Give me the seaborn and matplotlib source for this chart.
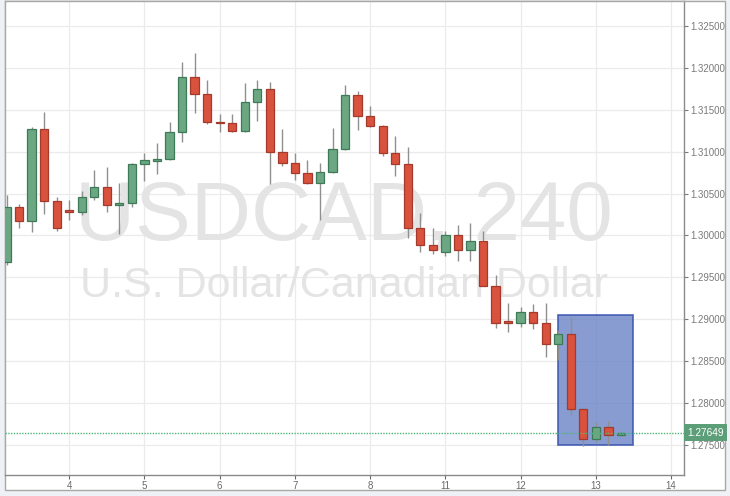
import numpy as np
import pandas as pd
import matplotlib
matplotlib.use("Agg")
import matplotlib.pyplot as plt
import matplotlib.transforms as mtransforms
from matplotlib.patches import Rectangle
import seaborn as sns

# ---------------- data (USDCAD, 4-hour candles) ----------------
opens = [1.2968, 1.3034, 1.3017, 1.3127, 1.3041, 1.3030, 1.3028, 1.3046, 1.3058, 1.3036,
         1.3039, 1.3085, 1.3089, 1.3091, 1.3123, 1.3189, 1.3169, 1.3135, 1.3134, 1.3125,
         1.3159, 1.3175, 1.3100, 1.3086, 1.3074, 1.3063, 1.3076, 1.3103, 1.3168, 1.3142,
         1.3131, 1.3099, 1.3085, 1.3009, 1.2989, 1.2980, 1.3001, 1.2983, 1.2994, 1.2940,
         1.2897, 1.2896, 1.2909, 1.2896, 1.2870, 1.2882, 1.2793, 1.2757, 1.2772, 1.2762]
highs = [1.3048, 1.3038, 1.3129, 1.3147, 1.3046, 1.3042, 1.3053, 1.3078, 1.3082, 1.3063,
         1.3086, 1.3099, 1.3110, 1.3136, 1.3207, 1.3218, 1.3185, 1.3145, 1.3145, 1.3182,
         1.3185, 1.3183, 1.3127, 1.3098, 1.3090, 1.3086, 1.3128, 1.3180, 1.3173, 1.3155,
         1.3132, 1.3119, 1.3105, 1.3027, 1.3009, 1.3005, 1.3013, 1.3015, 1.3005, 1.2953,
         1.2919, 1.2915, 1.2918, 1.2919, 1.2887, 1.2903, 1.2794, 1.2777, 1.2779, 1.2766]
lows = [1.2965, 1.3009, 1.3004, 1.3026, 1.3005, 1.3018, 1.3025, 1.3042, 1.3028, 1.3002,
        1.3034, 1.3065, 1.3073, 1.3090, 1.3112, 1.3146, 1.3133, 1.3124, 1.3123, 1.3124,
        1.3137, 1.3062, 1.3083, 1.3066, 1.3062, 1.3018, 1.3075, 1.3102, 1.3126, 1.3130,
        1.3095, 1.3071, 1.2997, 1.2980, 1.2978, 1.2976, 1.2970, 1.2970, 1.2940, 1.2890,
        1.2885, 1.2891, 1.2889, 1.2855, 1.2851, 1.2786, 1.2749, 1.2754, 1.2750, 1.2761]
closes = [1.3034, 1.3017, 1.3127, 1.3041, 1.3009, 1.3028, 1.3046, 1.3058, 1.3036, 1.3039,
          1.3085, 1.3090, 1.3091, 1.3123, 1.3189, 1.3169, 1.3135, 1.3134, 1.3125, 1.3159,
          1.3175, 1.3100, 1.3086, 1.3074, 1.3063, 1.3076, 1.3103, 1.3168, 1.3142, 1.3131,
          1.3099, 1.3085, 1.3009, 1.2989, 1.2983, 1.3001, 1.2983, 1.2994, 1.2940, 1.2896,
          1.2896, 1.2909, 1.2896, 1.2870, 1.2882, 1.2793, 1.2757, 1.2772, 1.2762, 1.27649]

day_labels = ["4", "5", "6", "7", "8", "11", "12", "13", "14"]
day_start_candle = [5, 11, 17, 23, 29, 35, 41, 47, 53]   # candle index at each day's 00:00
price_ticks = [1.275, 1.280, 1.285, 1.290, 1.295, 1.300, 1.305, 1.310, 1.315, 1.320, 1.325]
current_price = 1.27649
box_candles = [44, 50]
box_prices = [1.2750, 1.29055]

df = pd.DataFrame({"open": opens, "high": highs, "low": lows, "close": closes})
df["idx"] = np.arange(len(df))
df["up"] = df["close"] >= df["open"]

# ---------------- style ----------------
sns.set_theme(style="white")
plt.rcParams["font.family"] = ["Liberation Sans", "DejaVu Sans"]

GREEN = "#6aa782"
GREEN_EDGE = "#3f7a58"
RED = "#d9523e"
RED_EDGE = "#a33a2b"
WICK = "#8f8f8f"
GRID = "#ebebeb"

fig = plt.figure(figsize=(7.30, 4.96), dpi=100, facecolor="#eef2f6")
W, H = 730.0, 496.0
fig.patches.append(Rectangle((5 / W, 1 - 490 / H), (725 - 5) / W, (490 - 1) / H,
                             transform=fig.transFigure, facecolor="white",
                             edgecolor="#a8a8a8", lw=1.0, zorder=-5))
ax = fig.add_axes([5 / W, 1 - 475 / H, (684 - 5) / W, (475 - 1) / H])
ax.set_zorder(2)
ax.set_facecolor("white")

XL = (-0.12, 54.03)
YL = (1.27142, 1.32798)

# grid
for p in price_ticks:
    ax.axhline(p, color=GRID, lw=0.9, zorder=0)
for d in day_start_candle:
    ax.axvline(d, color=GRID, lw=0.9, zorder=0)

# watermark
ax.text(0.4993, 0.4958, "USDCAD, 240", transform=ax.transAxes, ha="center",
        va="baseline", fontsize=60, color="#e4e4e4", zorder=0.5)
ax.text(0.4993, 0.3755, "U.S. Dollar/Canadian Dollar", transform=ax.transAxes,
        ha="center", va="baseline", fontsize=31, color="#e4e4e4", zorder=0.5)

# highlight box
ax.add_patch(Rectangle((box_candles[0], box_prices[0]),
                       box_candles[1] - box_candles[0], box_prices[1] - box_prices[0],
                       facecolor="#6a84c6", alpha=0.8, edgecolor="#3550ad", lw=1.3,
                       zorder=1))

# wicks
ax.vlines(df["idx"], df["low"], df["high"], color=WICK, lw=1.0, zorder=2)

# bodies
width = 0.66
min_h = 0.00018
for up, sub in df.groupby("up"):
    bottoms = np.minimum(sub["open"], sub["close"])
    heights = np.maximum(np.abs(sub["close"] - sub["open"]), min_h)
    ax.bar(sub["idx"], heights, bottom=bottoms, width=width,
           color=GREEN if up else RED, edgecolor=GREEN_EDGE if up else RED_EDGE,
           linewidth=0.9, zorder=3)

# current price line
ax.axhline(current_price, color="#4fb57a", lw=1.0, linestyle=(0, (1, 1)), zorder=4)

# axes styling
ax.set_xlim(*XL)
ax.set_ylim(*YL)
ax.yaxis.tick_right()
ax.set_yticks(price_ticks)
ax.set_yticklabels([f"{p:.5f}" for p in price_ticks])
ax.set_xticks(day_start_candle)
ax.set_xticklabels(day_labels)
ax.set_xlabel("")
ax.set_ylabel("")
ax.tick_params(axis="y", right=True, left=False, length=3, width=0.8, pad=1.5,
               labelsize=7, colors="#7a7a7a")
ax.tick_params(axis="x", bottom=True, length=3, width=0.8, pad=1.5,
               labelsize=7, colors="#6a6a6a")
for s in ["left", "top"]:
    ax.spines[s].set_color("#a8a8a8")
    ax.spines[s].set_linewidth(1.0)
for s in ["right", "bottom"]:
    ax.spines[s].set_color("#8a8a8a")
    ax.spines[s].set_linewidth(1.0)

# current price label
trans = mtransforms.blended_transform_factory(ax.transAxes, ax.transData)
ax.text(1.0045, current_price, f"{current_price:.5f}", transform=trans, ha="left",
        va="center", fontsize=7.3, color="white", zorder=6, clip_on=False,
        bbox=dict(boxstyle="square,pad=0.3", facecolor="#5c9e78", edgecolor="none"))

fig.savefig("out.png", dpi=100, facecolor=fig.get_facecolor())
